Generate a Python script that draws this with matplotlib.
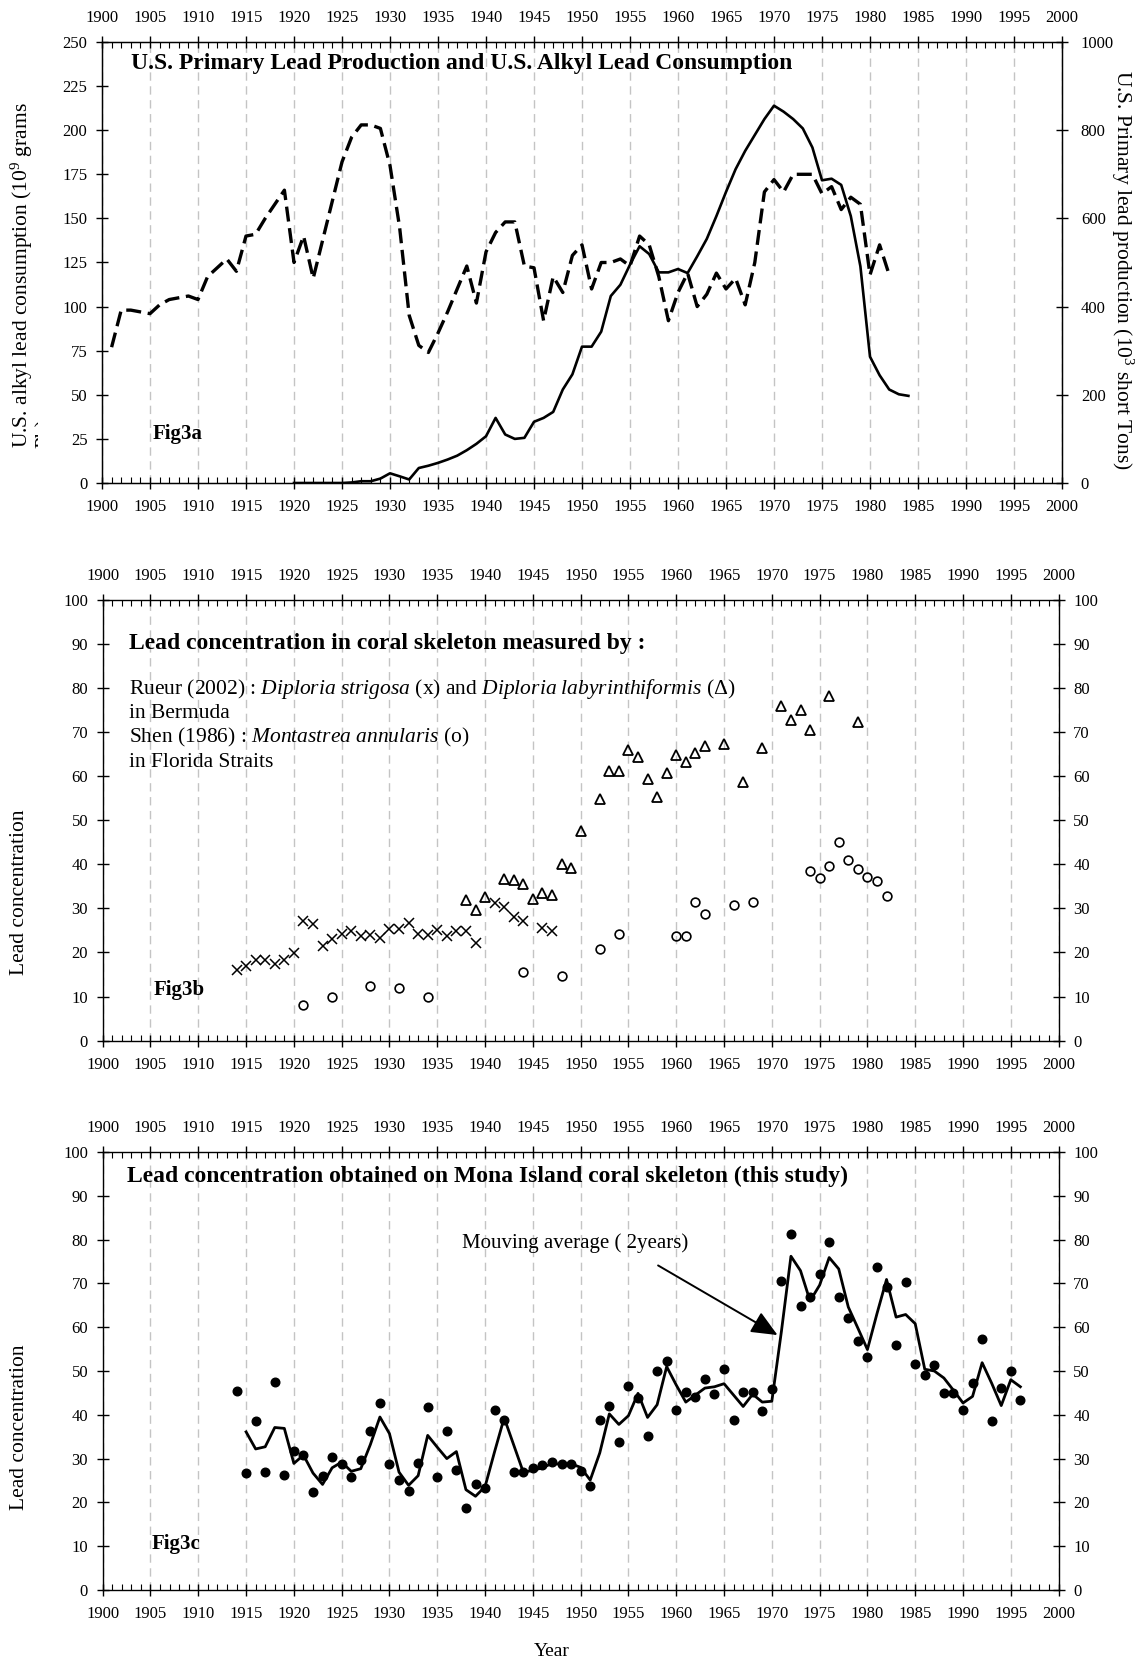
import matplotlib
matplotlib.use('Agg')
import matplotlib.pyplot as plt
from matplotlib.ticker import MultipleLocator
from matplotlib.transforms import Bbox, TransformedBbox

plt.rcParams['font.family'] = ['Liberation Serif', 'DejaVu Serif']
plt.rcParams['mathtext.fontset'] = 'custom'
plt.rcParams['mathtext.rm'] = 'Liberation Serif'
plt.rcParams['mathtext.it'] = 'Liberation Serif:italic'
plt.rcParams['mathtext.bf'] = 'Liberation Serif:bold'

# --- Fig3a: U.S. primary lead production (10^3 short tons) and alkyl lead consumption (10^9 g)
prod_years = list(range(1901, 1983))
lead_production = [308, 392, 392, 388, 384, 404, 416, 420, 424, 416,
                   468, 488, 508, 480, 560, 564, 600, 632, 664, 500,
                   560, 464, 552, 640, 728, 784, 812, 812, 804, 720,
                   580, 380, 312, 296, 340, 388, 440, 492, 408, 524,
                   568, 592, 592, 492, 488, 368, 468, 432, 516, 540,
                   440, 500, 500, 508, 492, 560, 540, 468, 368, 432,
                   476, 400, 428, 476, 440, 464, 404, 500, 660, 688,
                   660, 700, 700, 700, 656, 672, 620, 648, 632, 472,
                   540, 472]
alkyl_years = list(range(1920, 1985))
alkyl_consumption = [0, 0, 0, 0, 0, 0, 0.3, 1, 1, 2.5,
                     5.5, 3.8, 2, 8.5, 9.8, 11.4, 13.3, 15.5, 18.6, 22.2,
                     26.5, 36.9, 27.5, 25, 25.6, 34.7, 36.9, 40.3, 53, 61.6,
                     77.3, 77.3, 85.8, 106, 112.4, 123.8, 134.2, 129.8, 119.4, 119.4,
                     121.3, 119, 128.5, 138.4, 151.3, 165, 177.9, 188.3, 197.3, 206.3,
                     213.9, 210.5, 206.3, 201, 190.2, 171.6, 172.5, 169, 151.3, 122.8,
                     71.6, 61.1, 53, 50.3, 49.4]

# --- Fig3b: published coral records
strigosa_years = list(range(1914, 1940)) + [1941, 1942, 1943, 1944, 1946, 1947]
strigosa_pb = [16.1, 16.9, 18.4, 18.4, 17.3, 18.4, 19.9, 27.1, 26.4, 21.5,
               23, 24.1, 24.9, 23.7, 24, 23.3, 25.4, 25.4, 26.8, 24.3,
               23.9, 25.2, 23.7, 24.9, 24.9, 22.1,
               31.3, 30.4, 28, 27.2, 25.5, 24.9]
labyr_years = [1938, 1939, 1940, 1942, 1943, 1944, 1945, 1946, 1947, 1948,
               1949, 1950, 1952, 1953, 1954, 1955, 1956, 1957, 1958, 1959,
               1960, 1961, 1962, 1963, 1965, 1967, 1969, 1971, 1972, 1973,
               1974, 1976, 1979]
labyr_pb = [31.8, 29.7, 32.7, 36.7, 36.5, 35.6, 32.1, 33.6, 33.1, 40.1,
            39.2, 47.5, 54.8, 61.1, 61.1, 65.9, 64.4, 59.3, 55.4, 60.8,
            64.8, 63.3, 65.2, 66.9, 67.3, 58.7, 66.5, 76, 72.8, 75.1,
            70.6, 78.3, 72.4]
shen_years = [1921, 1924, 1928, 1931, 1934, 1944, 1948, 1952, 1954, 1960,
              1961, 1962, 1963, 1966, 1968, 1974, 1975, 1976, 1977, 1978,
              1979, 1980, 1981, 1982]
shen_pb = [8, 9.8, 12.3, 11.9, 10, 15.6, 14.6, 20.8, 24.1, 23.8,
           23.8, 31.4, 28.7, 30.8, 31.4, 38.4, 36.9, 39.6, 45.1, 41.1,
           39, 37.1, 36.2, 32.9]

# --- Fig3c: Mona Island coral
mona_years = list(range(1914, 1997))
mona_pb = [45.4, 26.6, 38.5, 27, 47.6, 26.3, 31.8, 30.8, 22.4, 26.1,
           30.4, 28.7, 25.7, 29.6, 36.3, 42.8, 28.7, 25.1, 22.6, 29,
           41.8, 25.9, 36.3, 27.3, 18.7, 24.2, 23.3, 41.2, 38.9, 27,
           27, 27.9, 28.5, 29.3, 28.7, 28.8, 27.2, 23.7, 38.9, 42.1,
           33.7, 46.5, 43.8, 35.2, 49.9, 52.3, 41.1, 45.3, 44.1, 48.2,
           44.7, 50.4, 38.9, 45.3, 45.3, 40.8, 46, 70.6, 81.2, 64.9,
           67, 72.2, 79.4, 66.9, 62.1, 56.9, 53.3, 73.7, 69.2, 55.9,
           70.4, 51.7, 49, 51.3, 45, 45, 41.1, 47.2, 57.2, 38.6,
           46.2, 49.9, 43.3]
avg_years = list(range(1915, 1997))
avg_pb = [36.1, 32.2, 32.7, 37.1, 36.9, 28.9, 30.8, 26.7, 24.1, 27.9,
          29.2, 27.1, 27.7, 33.2, 39.5, 35.7, 26.9, 23.9, 26.1, 35.3,
          32.6, 30, 31.6, 22.9, 21.4, 23.6, 31.6, 39.3, 33.1, 26.9,
          27.3, 27.9, 28.9, 28.7, 28.8, 28, 25.1, 31.3, 40.2, 37.8,
          39.8, 44.9, 39.4, 42.3, 51, 46.8, 42.9, 44.5, 46.1, 46.4,
          47.1, 44.5, 41.9, 44.7, 42.9, 43.1, 59, 76.2, 72.9, 66,
          69.6, 75.9, 73.3, 64.6, 59.8, 54.9, 63.1, 70.9, 62.3, 62.9,
          60.8, 50.4, 50, 48.4, 45.6, 42.7, 44.2, 51.9, 47.2, 42.1,
          48, 46.4]

W, H = 1139, 1660
TICK_SIZE = 12
TITLE_SIZE = 17
LABEL_SIZE = 15.5
fig = plt.figure(figsize=(W / 100, H / 100), dpi=100)


def px_box(left, top, right, bottom):
    return [left / W, 1 - bottom / H, (right - left) / W, (bottom - top) / H]


def year_axis(ax):
    ax.set_xlim(1900, 2000)
    ax.xaxis.set_major_locator(MultipleLocator(5))
    ax.xaxis.set_minor_locator(MultipleLocator(1))
    ax.tick_params(axis='x', which='major', direction='inout', length=8, width=1,
                   top=True, bottom=True, labeltop=True, labelbottom=True,
                   labelsize=TICK_SIZE, pad=7.5)
    ax.tick_params(axis='x', which='minor', direction='in', length=4, width=0.8,
                   top=True, bottom=True)
    ax.tick_params(axis='y', which='major', direction='inout', length=8, width=1,
                   labelsize=TICK_SIZE, pad=6.5)
    ax.grid(axis='x', which='major', color='#c4c4c4', lw=1, ls=(0, (6, 4)))
    ax.set_axisbelow(True)
    for s in ax.spines.values():
        s.set_linewidth(1)


# ---------------- Fig3a
ax1 = fig.add_axes(px_box(102, 42, 1062, 483))
year_axis(ax1)
ax1.set_ylim(0, 250)
ax1.yaxis.set_major_locator(MultipleLocator(25))
ax1.plot(alkyl_years, alkyl_consumption, color='k', lw=1.9, zorder=3)
ax2 = ax1.twinx()
ax2.set_ylim(0, 1000)
ax2.yaxis.set_major_locator(MultipleLocator(200))
ax2.tick_params(axis='y', direction='inout', length=8, width=1, labelsize=TICK_SIZE, pad=9.5)
ax2.plot(prod_years, lead_production, color='k', lw=2.4, ls=(0, (4.5, 2)), zorder=3)
ax1.text(1903, 238, 'U.S. Primary Lead Production and U.S. Alkyl Lead Consumption',
         fontsize=TITLE_SIZE, fontweight='bold', va='center', ha='left')
ax1.text(1905.3, 27.5, 'Fig3a', fontsize=15, fontweight='bold', va='center')

fig.text(21.7 / W, 1 - 448 / H, 'U.S. alkyl lead consumption (10$^9$ grams',
         rotation=90, ha='center', va='bottom', fontsize=LABEL_SIZE)
pb = fig.text(45 / W, 1 - 448 / H, 'Pb)', rotation=90, ha='center', va='bottom',
              fontsize=LABEL_SIZE)
pb.set_clip_box(TransformedBbox(Bbox([[0, 0], [38 / W, 1]]), fig.transFigure))
pb.set_clip_on(True)
fig.text(1122 / W, 1 - 270 / H, 'U.S. Primary lead production (10$^3$ short Tons)',
         rotation=270, ha='center', va='center', fontsize=LABEL_SIZE)

# ---------------- Fig3b
ax3 = fig.add_axes(px_box(102.7, 600, 1058.6, 1040.6))
year_axis(ax3)
ax3.set_ylim(0, 100)
ax3.yaxis.set_major_locator(MultipleLocator(10))
ax3.tick_params(axis='y', right=True, labelright=True)
ax3.plot(strigosa_years, strigosa_pb, ls='none', marker='x', ms=7, mew=1.1, color='k')
ax3.plot(labyr_years, labyr_pb, ls='none', marker='^', ms=7, mew=1.3,
         mfc='none', mec='k')
ax3.plot(shen_years, shen_pb, ls='none', marker='o', ms=6.3, mew=1.2, mfc='none', mec='k')
ax3.text(1902.7, 90.1, 'Lead concentration in coral skeleton measured by :',
         fontsize=TITLE_SIZE, fontweight='bold', va='center')
ax3.text(1902.7, 79.8, 'Rueur (2002) : $\\mathit{Diploria\\ strigosa}$ (x) and '
         '$\\mathit{Diploria\\ labyrinthiformis}$ (\u0394)', fontsize=15.5, va='center')
ax3.text(1902.7, 74.3, 'in Bermuda', fontsize=15.5, va='center')
ax3.text(1902.7, 68.7, 'Shen (1986) : $\\mathit{Montastrea\\ annularis}$ (o)',
         fontsize=15.5, va='center')
ax3.text(1902.7, 63.1, 'in Florida Straits', fontsize=15.5, va='center')
ax3.text(1905.3, 11.4, 'Fig3b', fontsize=15, fontweight='bold', va='center')
fig.text(20 / W, 1 - 892 / H, 'Lead concentration', rotation=90,
         ha='center', va='center', fontsize=LABEL_SIZE)

# ---------------- Fig3c
ax4 = fig.add_axes(px_box(102.7, 1152, 1058.6, 1590))
year_axis(ax4)
ax4.set_ylim(0, 100)
ax4.yaxis.set_major_locator(MultipleLocator(10))
ax4.tick_params(axis='y', right=True, labelright=True)
ax4.plot(mona_years, mona_pb, ls='none', marker='o', ms=6.2, color='k')
ax4.plot(avg_years, avg_pb, color='k', lw=2)
ax4.annotate('', xy=(1970.6, 58.2), xytext=(1958.1, 74.1),
             arrowprops=dict(arrowstyle='-|>,head_length=0.8,head_width=0.35',
                             mutation_scale=20, lw=1.4, color='k',
                             shrinkA=0, shrinkB=0))
ax4.text(1937.6, 79.2, 'Mouving average ( 2years)', fontsize=15, va='center')
ax4.text(1902.5, 94.5, 'Lead concentration obtained on Mona Island coral skeleton (this study)',
         fontsize=TITLE_SIZE, fontweight='bold', va='center')
ax4.text(1905.1, 10.4, 'Fig3c', fontsize=15, fontweight='bold', va='center')
fig.text(20 / W, 1 - 1427 / H, 'Lead concentration', rotation=90,
         ha='center', va='center', fontsize=LABEL_SIZE)
fig.text(552 / W, 1 - 1651 / H, 'Year', ha='center', va='center', fontsize=14)

fig.savefig('out.png', dpi=100)
